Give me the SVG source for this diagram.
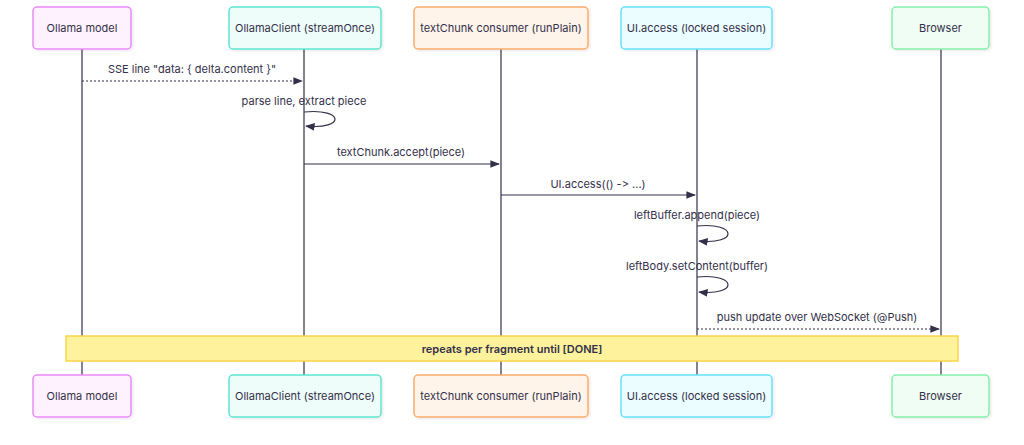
<svg xmlns="http://www.w3.org/2000/svg" width="1024" height="445" viewBox="0 0 1024 445">
<style>
text{font-family:Inter,"Noto Sans",sans-serif;font-size:11px;fill:#33304a;text-anchor:middle;dominant-baseline:central;font-variant-ligatures:none;font-feature-settings:"calt" 0,"liga" 0}
.life{stroke:#33304a;stroke-width:1.2}
.msg{stroke:#33304a;stroke-width:1.2;fill:none}
.dot{stroke-dasharray:2 2}
.box{stroke-width:1.5}
.note{fill:#fef39c;stroke:#fcd34d;stroke-width:1.5}
.bold{font-weight:600}
</style>
<defs>
<marker id="ah" viewBox="0 0 10 10" refX="9" refY="5" markerWidth="8" markerHeight="8" orient="auto"><path d="M0,1 L10,5 L0,9 z" fill="#33304a"/></marker>
<filter id="sh" x="-10%" y="-10%" width="130%" height="140%"><feDropShadow dx="1.5" dy="1.5" stdDeviation="1" flood-color="#000" flood-opacity="0.08"/></filter>
</defs>
<g id="lifelines">
<line class="life" x1="82" y1="49" x2="82" y2="375"/>
<line class="life" x1="304" y1="49" x2="304" y2="375"/>
<line class="life" x1="501" y1="49" x2="501" y2="375"/>
<line class="life" x1="697" y1="49" x2="697" y2="375"/>
<line class="life" x1="941" y1="49" x2="941" y2="375"/>
</g>
<g id="ollama-top"><rect class="box" x="33" y="7" width="98" height="42" rx="4" fill="#fdf2fd" stroke="#ec8af9" filter="url(#sh)"/><text x="82" y="28">Ollama model</text></g>
<g id="client-top"><rect class="box" x="229" y="7" width="152" height="42" rx="4" fill="#effdfa" stroke="#5ee6d0" filter="url(#sh)"/><text x="305" y="28">OllamaClient (streamOnce)</text></g>
<g id="consumer-top"><rect class="box" x="414" y="7" width="174" height="42" rx="4" fill="#fff4ea" stroke="#fdab6b" filter="url(#sh)"/><text x="501" y="28">textChunk consumer (runPlain)</text></g>
<g id="ui-top"><rect class="box" x="621" y="7" width="151" height="42" rx="4" fill="#ebfdff" stroke="#67e3f9" filter="url(#sh)"/><text x="696.5" y="28">UI.access (locked session)</text></g>
<g id="browser-top"><rect class="box" x="892" y="7" width="97" height="42" rx="4" fill="#f0fdf4" stroke="#86efac" filter="url(#sh)"/><text x="940.5" y="28">Browser</text></g>
<g id="connectors">
<text x="192" y="69">SSE line "data: { delta.content }"</text>
<line class="msg dot" x1="82" y1="81" x2="302" y2="81" marker-end="url(#ah)"/>
<text x="304" y="101">parse line, extract piece</text>
<path class="msg" d="M304,112 C345,108 345,130 306,126" marker-end="url(#ah)"/>
<text x="401" y="152">textChunk.accept(piece)</text>
<line class="msg" x1="304" y1="164" x2="499" y2="164" marker-end="url(#ah)"/>
<text x="598" y="184">UI.access(() -&gt; ...)</text>
<line class="msg" x1="501" y1="195" x2="695" y2="195" marker-end="url(#ah)"/>
<text x="697" y="215">leftBuffer.append(piece)</text>
<path class="msg" d="M697,226 C738,222 738,245 699,241" marker-end="url(#ah)"/>
<text x="697" y="266">leftBody.setContent(buffer)</text>
<path class="msg" d="M697,277 C738,273 738,296 699,292" marker-end="url(#ah)"/>
<text x="817" y="317">push update over WebSocket (@Push)</text>
<line class="msg dot" x1="697" y1="329" x2="939" y2="329" marker-end="url(#ah)"/>
</g>
<g id="note"><rect class="note" x="66" y="336" width="892" height="25"/><text class="bold" x="512" y="348.5">repeats per fragment until [DONE]</text></g>
<g id="ollama-bottom"><rect class="box" x="33" y="375" width="98" height="42" rx="4" fill="#fdf2fd" stroke="#ec8af9" filter="url(#sh)"/><text x="82" y="396">Ollama model</text></g>
<g id="client-bottom"><rect class="box" x="229" y="375" width="152" height="42" rx="4" fill="#effdfa" stroke="#5ee6d0" filter="url(#sh)"/><text x="305" y="396">OllamaClient (streamOnce)</text></g>
<g id="consumer-bottom"><rect class="box" x="414" y="375" width="174" height="42" rx="4" fill="#fff4ea" stroke="#fdab6b" filter="url(#sh)"/><text x="501" y="396">textChunk consumer (runPlain)</text></g>
<g id="ui-bottom"><rect class="box" x="621" y="375" width="151" height="42" rx="4" fill="#ebfdff" stroke="#67e3f9" filter="url(#sh)"/><text x="696.5" y="396">UI.access (locked session)</text></g>
<g id="browser-bottom"><rect class="box" x="892" y="375" width="97" height="42" rx="4" fill="#f0fdf4" stroke="#86efac" filter="url(#sh)"/><text x="940.5" y="396">Browser</text></g>
</svg>
